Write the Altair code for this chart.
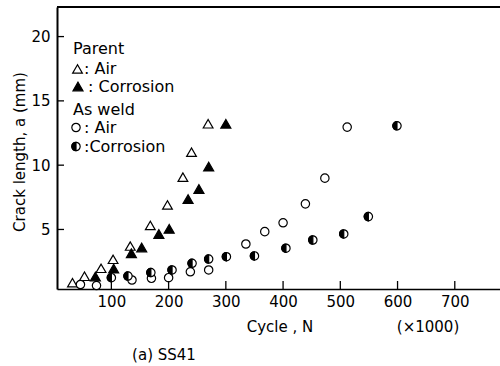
import altair as alt
import pandas as pd

# Crack length a (mm) against load cycles N (x1000), SS41
parent_air_cycle = [32, 53, 82, 103, 133, 168, 198, 225, 240, 269]
parent_air_crack = [0.86, 1.36, 1.98, 2.68, 3.71, 5.31, 6.91, 9.07, 11.01, 13.22]

parent_cor_cycle = [72, 104, 135, 153, 183, 201, 234, 253, 270, 300]
parent_cor_crack = [1.34, 1.96, 3.15, 3.60, 4.65, 5.05, 7.36, 8.15, 9.89, 13.22]

weld_air_cycle = [46, 74, 136, 170, 200, 238, 270, 335, 368, 400, 439, 473, 512]
weld_air_crack = [0.72, 0.64, 1.07, 1.2, 1.25, 1.71, 1.85, 3.87, 4.83, 5.52, 6.99, 8.99, 12.96]

weld_cor_cycle = [100, 129, 169, 206, 241, 270, 301, 350, 405, 452, 506, 549, 599]
weld_cor_crack = [1.25, 1.38, 1.65, 1.85, 2.37, 2.7, 2.88, 2.94, 3.54, 4.18, 4.65, 6.0, 13.06]

x_ticks = [100, 200, 300, 400, 500, 600, 700]
y_ticks = [5, 10, 15, 20]

FONT = "DejaVu Sans"
W, H = 443, 282
HALF_LEFT = "M0,-1A1,1,0,0,0,0,1Z"

xscale = alt.Scale(domain=[5, 779], nice=False, zero=False)
yscale = alt.Scale(domain=[0.37, 22.3], nice=False, zero=False)

xaxis = alt.Axis(values=x_ticks, ticks=False, domain=True, domainColor="black",
                 domainWidth=1.5, labelFontSize=15, labelFont=FONT, labelColor="black",
                 labelPadding=5, title=None, grid=False, labelFlush=False)
yaxis = alt.Axis(values=y_ticks, ticks=False, domain=True, domainColor="black",
                 domainWidth=2, labelFontSize=15, labelFont=FONT, labelColor="black",
                 labelPadding=7, title=None, grid=False, labelFlush=False)


def series(cycle, crack, shape, fill, size, stroke="black"):
    df = pd.DataFrame({"cycle": cycle, "crack": crack})
    return alt.Chart(df).mark_point(
        shape=shape, filled=True, fill=fill, stroke=stroke, strokeWidth=1.2,
        size=size, opacity=1, fillOpacity=1, strokeOpacity=1
    ).encode(
        x=alt.X("cycle:Q", scale=xscale, axis=xaxis),
        y=alt.Y("crack:Q", scale=yscale, axis=yaxis),
    )


one = pd.DataFrame({"k": [0]})


def label(text, x, y, align="left", angle=0, size=16):
    return alt.Chart(one).mark_text(
        text=text, align=align, baseline="middle", angle=angle,
        fontSize=size, font=FONT, color="black"
    ).encode(x=alt.value(x), y=alt.value(y))


def symbol(shape, fill, x, y, size, stroke="black"):
    return alt.Chart(one).mark_point(
        shape=shape, filled=True, fill=fill, stroke=stroke, strokeWidth=1.2,
        size=size, opacity=1, fillOpacity=1, strokeOpacity=1
    ).encode(x=alt.value(x), y=alt.value(y))


layers = [
    series(parent_air_cycle, parent_air_crack, "triangle-up", "white", 95),
    series(parent_cor_cycle, parent_cor_crack, "triangle-up", "black", 100),
    series(weld_air_cycle, weld_air_crack, "circle", "white", 70),
    series(weld_cor_cycle, weld_cor_crack, "circle", "white", 70),
    series(weld_cor_cycle, weld_cor_crack, HALF_LEFT, "black", 70),
]

# inward tick marks
layers.append(
    alt.Chart(pd.DataFrame({"cycle": x_ticks})).mark_rule(color="black", strokeWidth=1.3).encode(
        x=alt.X("cycle:Q", scale=xscale, axis=xaxis), y=alt.value(H), y2=alt.value(H - 8))
)
layers.append(
    alt.Chart(pd.DataFrame({"crack": y_ticks})).mark_rule(color="black", strokeWidth=1.3).encode(
        y=alt.Y("crack:Q", scale=yscale, axis=yaxis), x=alt.value(0), x2=alt.value(7))
)
# top frame line
layers.append(
    alt.Chart(one).mark_rule(color="black", strokeWidth=2).encode(
        x=alt.value(0), x2=alt.value(W), y=alt.value(0))
)

# in-plot key
layers += [
    label("Parent", 16, 41.5),
    symbol("triangle-up", "white", 20.5, 62, 95),
    label(": Air", 27, 62),
    symbol("triangle-up", "black", 21, 79.5, 100),
    label(": Corrosion", 31, 79.5),
    label("As weld", 16, 103),
    symbol("circle", "white", 19, 120.5, 70),
    label(": Air", 27, 120.5),
    symbol("circle", "white", 19, 139.5, 70),
    symbol(HALF_LEFT, "black", 19, 139.5, 70),
    label(":Corrosion", 27, 139.5),
]

# axis titles and caption
layers += [
    label("Crack length, a (mm)", -37, 145, align="center", angle=270, size=15),
    label("Cycle , N", 223, 320, align="center", size=15),
    label("(×1000)", 371, 320, align="center", size=15),
    label("(a) SS41", 107, 348, align="center", size=15),
]

chart = alt.layer(*layers).properties(
    width=W, height=H,
    padding={"left": 57, "top": 7, "right": 0, "bottom": 77},
    autosize=alt.AutoSizeParams(type="none"),
    background="white",
).configure_view(stroke=None)

chart.save("out.html", embed_options={"renderer": "svg", "actions": False})
